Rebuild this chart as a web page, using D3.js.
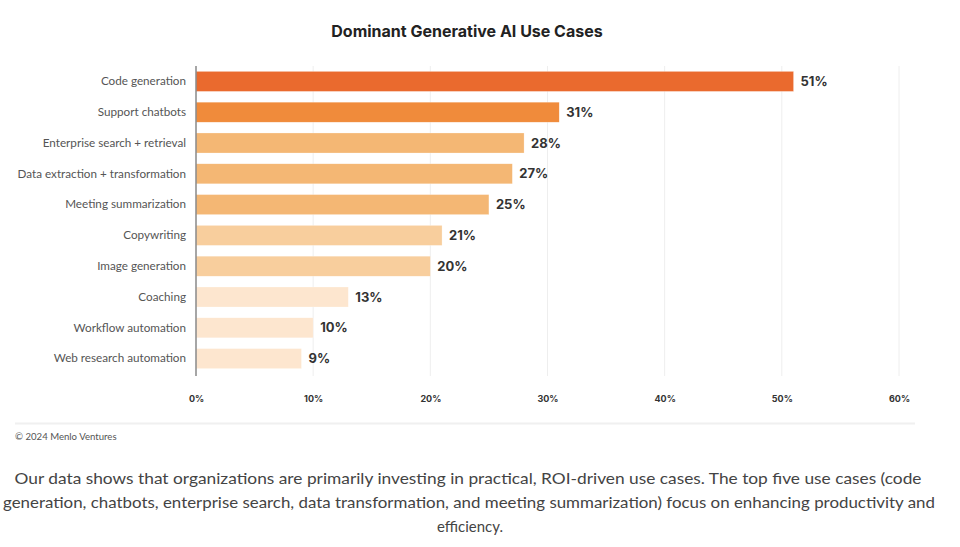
<!DOCTYPE html>
<html><head><meta charset="utf-8">
<script src="https://cdn.jsdelivr.net/npm/d3@7"></script>
<style>body{margin:0;background:#fff;overflow:hidden}svg{display:block}</style>
</head><body>
<svg id="c" width="960" height="547"></svg>
<script>
const categories = ["Code generation","Support chatbots","Enterprise search + retrieval","Data extraction + transformation","Meeting summarization","Copywriting","Image generation","Coaching","Workflow automation","Web research automation"];
const values = [51,31,28,27,25,21,20,13,10,9];
const colors = ["#EA6A2E","#F08B3B","#F4B774","#F4B774","#F4B774","#F8CE9D","#F8CE9D","#FDE6CF","#FDE6CF","#FDE6CF"];
const ticks = [0,10,20,30,40,50,60];
const title = "Dominant Generative AI Use Cases";
const source = "© 2024 Menlo Ventures";
const paragraph = ["Our data shows that organizations are primarily investing in practical, ROI-driven use cases. The top five use cases (code",
"generation, chatbots, enterprise search, data transformation, and meeting summarization) focus on enhancing productivity and",
"efficiency."];

const svg = d3.select("#c");
const x = d3.scaleLinear().domain([0,60]).range([196,899]);
const y = d3.scaleBand().domain(categories).range([66,374]).paddingInner(0.35).paddingOuter(0.175);

svg.append("text").attr("x",467).attr("y",37).attr("text-anchor","middle")
  .attr("font-family","Inter, sans-serif").attr("font-weight",700).attr("font-size",16).attr("fill","#222").text(title);

// grid
const grid = svg.append("g");
grid.selectAll("line").data(ticks.slice(1)).join("line")
  .attr("x1",d=>x(d)).attr("x2",d=>x(d)).attr("y1",66).attr("y2",376)
  .attr("stroke","#eeeeee").attr("stroke-width",1);

// bars
svg.append("g").selectAll("rect").data(values).join("rect")
  .attr("x",x(0)).attr("y",(d,i)=>y(categories[i]))
  .attr("width",d=>x(d)-x(0)).attr("height",y.bandwidth())
  .attr("fill",(d,i)=>colors[i]).attr("stroke","#fff").attr("stroke-opacity",0.5).attr("stroke-width",0.5);

// value labels
svg.append("g").selectAll("text").data(values).join("text")
  .attr("x",d=>x(d)+7).attr("y",(d,i)=>y(categories[i])+y.bandwidth()/2)
  .attr("dy","0.36em").attr("font-family","Inter, sans-serif").attr("font-weight",700)
  .attr("font-size",13).attr("fill","#333").text(d=>d+"%");

// y axis
const ya = svg.append("g").attr("transform",`translate(${x(0)},0)`)
  .call(d3.axisLeft(y).tickSize(0).tickPadding(10));
ya.select(".domain").remove();
ya.selectAll("text").attr("font-family","Lato, sans-serif").attr("font-size",11.7).attr("fill","#555");
svg.append("line").attr("x1",x(0)).attr("x2",x(0)).attr("y1",66).attr("y2",376).attr("stroke","#888").attr("stroke-width",1.5);

// x axis
const xa = svg.append("g").attr("transform","translate(0,376)")
  .call(d3.axisBottom(x).tickValues(ticks).tickFormat(d=>d+"%").tickSize(0).tickPadding(20));
xa.select(".domain").remove();
xa.selectAll("text").attr("font-family","Inter, sans-serif").attr("font-weight",700).attr("font-size",9).attr("fill","#333");

// separator
svg.append("line").attr("x1",15).attr("x2",915).attr("y1",423.5).attr("y2",423.5).attr("stroke","#f0f0f0").attr("stroke-width",2);
svg.append("text").attr("x",15).attr("y",440).attr("font-family","Lato, sans-serif").attr("font-size",9.6).attr("fill","#555").text(source);

// paragraph
const widths=[907,932,66];
const cx=[468,469,470];
svg.append("g").selectAll("text").data(paragraph).join("text")
  .attr("x",(d,i)=>cx[i]).attr("y",(d,i)=>484+i*24).attr("text-anchor","middle")
  .attr("font-family","Lato, sans-serif").attr("font-size",16).attr("fill","#444")
  .attr("textLength",(d,i)=>widths[i]).attr("lengthAdjust","spacingAndGlyphs").text(d=>d);
</script>
</body></html>
